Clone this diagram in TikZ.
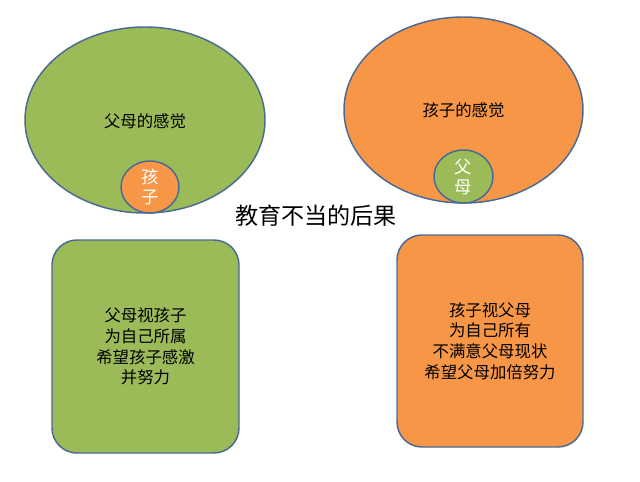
\documentclass[tikz,border=0pt]{standalone}
\usepackage{fontspec}
\setmainfont{Noto Sans CJK SC}
\usetikzlibrary{shapes.geometric}
\definecolor{ogreen}{HTML}{9BBB59}
\definecolor{oorange}{HTML}{F79646}
\definecolor{oline}{HTML}{4A6A94}
\begin{document}
\begin{tikzpicture}[x=0.75pt,y=-0.75pt,
  shapeline/.style={draw=oline,line width=1.1pt},
  bigell/.style={shapeline,ellipse,inner sep=0pt,minimum height=139.5pt,
    font=\fontsize{12.3pt}{15.5pt}\selectfont,text=black},
  smallell/.style={shapeline,ellipse,inner sep=0pt,align=center,
    font=\fontsize{13pt}{15pt}\selectfont,text=white},
  infobox/.style={shapeline,rounded corners=18.75pt,inner sep=0pt,align=center,
    font=\fontsize{12.3pt}{15.5pt}\selectfont,text=black}]
\useasboundingbox (0,0) rectangle (640,482);
\fill[white] (0,0) rectangle (640,482);
% top left
\node[bigell,fill=ogreen,minimum width=180pt] (pfeel) at (145,120) {};
\node (pfeeltext) at (145,121) {\fontsize{12.3pt}{15.5pt}\selectfont 父母的感觉};
\node[smallell,fill=oorange,minimum width=43.5pt,minimum height=39pt] (kid) at (150,187) {孩\\子};
% top right
\node[bigell,fill=oorange,minimum width=179.25pt] (kfeel) at (463.5,110) {};
\node (kfeeltext) at (463.5,110) {\fontsize{12.3pt}{15.5pt}\selectfont 孩子的感觉};
\node[smallell,fill=ogreen,minimum width=44.25pt,minimum height=39.75pt] (par) at (463.5,176.5) {父\\母};
% title
\node[font=\fontsize{17.3pt}{20pt}\selectfont,text=black] (title) at (316,215.5) {教育不当的后果};
% bottom boxes
\node[infobox,fill=ogreen,minimum width=140.25pt,minimum height=159.75pt] (pbox) at (145.5,346.5)
  {父母视孩子\\为自己所属\\希望孩子感激\\并努力};
\node[infobox,fill=oorange,minimum width=139.5pt,minimum height=159pt] (kbox) at (490,341)
  {孩子视父母\\为自己所有\\不满意父母现状\\希望父母加倍努力};
\end{tikzpicture}
\end{document}
